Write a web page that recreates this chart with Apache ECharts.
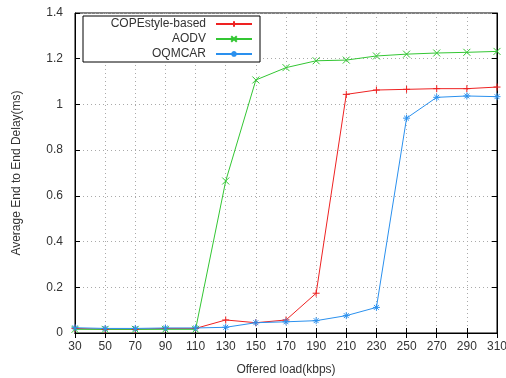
<!DOCTYPE html>
<html><head><meta charset="utf-8">
<script src="https://cdn.jsdelivr.net/npm/echarts@6/dist/echarts.min.js"></script>
<style>html,body{margin:0;padding:0;background:#fff}#c{width:506px;height:378px}</style>
</head><body><div id="c"></div>
<script>
const categories = ['30','50','70','90','110','130','150','170','190','210','230','250','270','290','310'];
const copeValues = [0.020,0.016,0.016,0.020,0.020,0.057,0.045,0.057,0.174,1.044,1.063,1.066,1.069,1.069,1.076];
const aodvValues = [0.016,0.016,0.016,0.016,0.016,0.665,1.107,1.161,1.191,1.194,1.212,1.220,1.225,1.228,1.232];
const oqmcarValues = [0.023,0.020,0.020,0.022,0.022,0.025,0.045,0.049,0.054,0.076,0.112,0.940,1.031,1.037,1.034];
const yTicks = [0,0.2,0.4,0.6,0.8,1,1.2,1.4];

const font = '"Liberation Sans", Arial, sans-serif';
const chart = echarts.init(document.getElementById('c'), null, {renderer:'canvas'});
const plus = 'path://M5,0L5,10M0,5L10,5';
const cross = 'path://M0,0L10,10M10,0L0,10';
const star = 'path://M5,0L5,10M0,5L10,5M1.5,1.5L8.5,8.5M8.5,1.5L1.5,8.5';
function mk(name, data, color, sym){
  return {name, type:'line', data, symbol:sym, symbolSize:7, showSymbol:true,
    lineStyle:{color, width:1}, itemStyle:{color, borderColor:color, borderWidth:1},
    emphasis:{disabled:true}, animation:false};
}
const gridLine = {show:true, lineStyle:{color:'#aaa', type:[1,3], width:1}};
chart.setOption({
  animation:false,
  grid:{left:75, right:9, top:13, bottom:45, containLabel:false, outerBoundsMode:'none',
    show:true, borderColor:'#000', borderWidth:1},
  legend:{left:83, top:16, align:'right', orient:'vertical', itemWidth:36, itemHeight:7, itemGap:3,
    padding:[2,7,2,3], borderColor:'#000', borderWidth:1, backgroundColor:'#fff',
    formatter: n => '{a|' + n + '}',
    textStyle:{fontFamily:font, fontSize:12, color:'#333',
      rich:{a:{width:120, align:'right', lineHeight:12, padding:[0,5,0,0], fontFamily:font, fontSize:12, color:'#333'}}},
    data:['COPEstyle-based','AODV','OQMCAR']},
  xAxis:[{type:'category', data:categories, boundaryGap:false,
    name:'Offered load(kbps)', nameLocation:'middle', nameGap:31,
    nameTextStyle:{fontFamily:font, fontSize:12, color:'#333'},
    axisLine:{lineStyle:{color:'#000'}},
    axisTick:{inside:true, length:5, lineStyle:{color:'#000'}},
    axisLabel:{fontFamily:font, fontSize:12, color:'#333', margin:8},
    splitLine:gridLine},
    {type:'category', data:categories, boundaryGap:false, position:'top',
    axisLine:{lineStyle:{color:'#000'}}, axisTick:{inside:true, length:5, lineStyle:{color:'#000'}},
    axisLabel:{show:false}, splitLine:{show:false}}],
  yAxis:[{type:'value', min:yTicks[0], max:yTicks[yTicks.length-1], interval:0.2,
    name:'Average End to End Delay(ms)', nameLocation:'middle', nameGap:52,
    nameTextStyle:{fontFamily:font, fontSize:12, color:'#333'},
    axisLine:{show:true, lineStyle:{color:'#000'}},
    axisTick:{show:true, inside:true, length:5, lineStyle:{color:'#000'}},
    axisLabel:{fontFamily:font, fontSize:12, color:'#333', margin:12,
      formatter: v => String(parseFloat(v.toFixed(1)))},
    splitLine:gridLine},
    {type:'value', min:0, max:1.4, interval:0.2, position:'right',
    axisLine:{show:true, lineStyle:{color:'#000'}},
    axisTick:{show:true, inside:true, length:5, lineStyle:{color:'#000'}},
    axisLabel:{show:false}, splitLine:{show:false}}],
  series:[
    mk('COPEstyle-based', copeValues, '#ee2222', plus),
    mk('AODV', aodvValues, '#33c633', cross),
    mk('OQMCAR', oqmcarValues, '#2a90ee', star)
  ]
});
</script></body></html>
